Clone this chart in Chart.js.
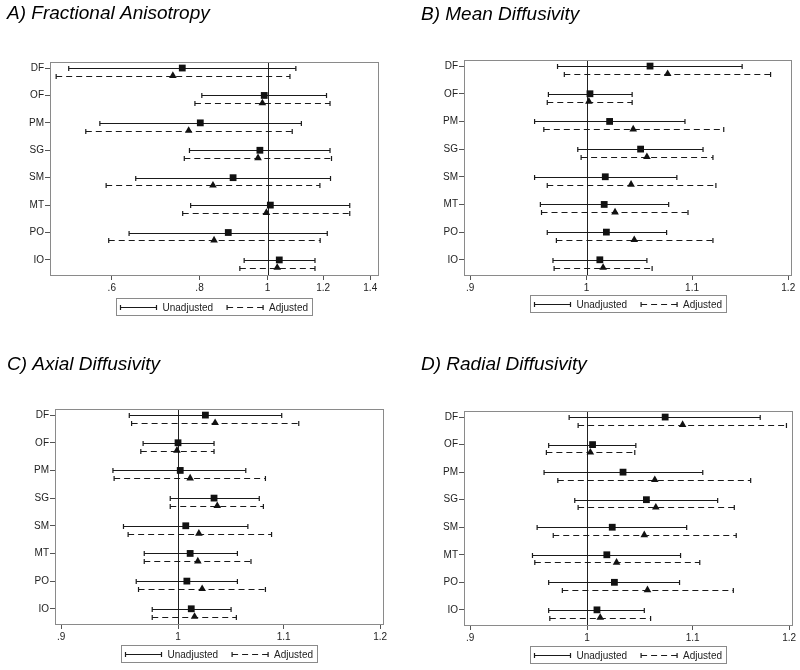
<!DOCTYPE html>
<html>
<head>
<meta charset="utf-8">
<title>DTI forest plots</title>
<script src="https://cdn.jsdelivr.net/npm/chart.js@4.4.1/dist/chart.umd.min.js"></script>
<style>
  body { margin: 0; background: #fff; }
  #wrap { position: relative; width: 800px; height: 670px; }
  canvas { position: absolute; }
</style>
</head>
<body>
<div id="wrap">
  <canvas id="panelA" width="400" height="335" style="left:0;top:0"></canvas>
  <canvas id="panelB" width="400" height="335" style="left:400px;top:0"></canvas>
  <canvas id="panelC" width="400" height="335" style="left:0;top:335px"></canvas>
  <canvas id="panelD" width="400" height="335" style="left:400px;top:335px"></canvas>
</div>
<script>
// Regions, top to bottom
const regions = ['DF', 'OF', 'PM', 'SG', 'SM', 'MT', 'PO', 'IO'];

// Each entry: [lower CI, estimate, upper CI]
// A) Fractional Anisotropy
const faUnadj = [[0.521, 0.756, 1.097], [0.806, 0.989, 1.213], [0.577, 0.802, 1.117], [0.774, 0.975, 1.227],
                 [0.649, 0.893, 1.229], [0.777, 1.009, 1.309], [0.635, 0.879, 1.216], [0.926, 1.039, 1.168]];
const faAdj   = [[0.500, 0.733, 1.076], [0.788, 0.983, 1.227], [0.551, 0.772, 1.084], [0.761, 0.969, 1.233],
                 [0.589, 0.836, 1.187], [0.757, 0.996, 1.309], [0.594, 0.839, 1.188], [0.913, 1.032, 1.168]];
// B) Mean Diffusivity
const mdUnadj = [[0.974, 1.059, 1.151], [0.966, 1.003, 1.042], [0.954, 1.021, 1.093], [0.992, 1.050, 1.111],
                 [0.954, 1.017, 1.085], [0.959, 1.016, 1.077], [0.965, 1.018, 1.075], [0.970, 1.012, 1.056]];
const mdAdj   = [[0.980, 1.076, 1.181], [0.965, 1.002, 1.042], [0.962, 1.043, 1.132], [0.995, 1.056, 1.121],
                 [0.965, 1.041, 1.124], [0.960, 1.026, 1.096], [0.973, 1.044, 1.121], [0.971, 1.015, 1.061]];
// C) Axial Diffusivity
const adUnadj = [[0.957, 1.025, 1.098], [0.969, 1.000, 1.033], [0.943, 1.002, 1.063], [0.993, 1.033, 1.076],
                 [0.952, 1.007, 1.065], [0.970, 1.011, 1.055], [0.963, 1.008, 1.055], [0.977, 1.012, 1.049]];
const adAdj   = [[0.959, 1.034, 1.115], [0.967, 0.999, 1.033], [0.944, 1.011, 1.082], [0.993, 1.036, 1.080],
                 [0.956, 1.019, 1.088], [0.970, 1.018, 1.068], [0.965, 1.022, 1.082], [0.977, 1.015, 1.054]];
// D) Radial Diffusivity
const rdUnadj = [[0.984, 1.073, 1.169], [0.966, 1.005, 1.045], [0.962, 1.033, 1.110], [0.989, 1.055, 1.125],
                 [0.956, 1.023, 1.094], [0.952, 1.018, 1.088], [0.966, 1.025, 1.087], [0.966, 1.009, 1.053]];
const rdAdj   = [[0.992, 1.090, 1.197], [0.964, 1.003, 1.044], [0.974, 1.063, 1.159], [0.992, 1.064, 1.142],
                 [0.970, 1.053, 1.144], [0.954, 1.027, 1.107], [0.978, 1.056, 1.141], [0.967, 1.012, 1.059]];

// Tick labels on the (log) x axis
const faTicks = [0.6, 0.8, 1, 1.2, 1.4];
const diffTicks = [0.9, 1, 1.1, 1.2];

const FONT = '"Liberation Sans", Arial, sans-serif';
const ADJ_OFFSET = 0.28;

// Draws the CI bars, reference line, frame and legend
const forestPlugin = {
    id: 'forest',
    beforeDatasetsDraw(chart) {
        const ctx = chart.ctx;
        const xs = chart.scales.x;
        const area = chart.chartArea;
        ctx.save();

        // reference line at 1
        const x1 = Math.round(xs.getPixelForValue(1)) + 0.5;
        ctx.strokeStyle = '#222';
        ctx.lineWidth = 1;
        ctx.beginPath();
        ctx.moveTo(x1, area.top);
        ctx.lineTo(x1, area.bottom);
        ctx.stroke();

        chart.data.datasets.forEach((ds, di) => {
            const meta = chart.getDatasetMeta(di);
            ctx.strokeStyle = '#1a1a1a';
            ctx.lineWidth = 1.2;
            meta.data.forEach((pt, j) => {
                const raw = ds.data[j];
                const xl = xs.getPixelForValue(raw.lo);
                const xh = xs.getPixelForValue(raw.hi);
                const y = Math.round(pt.y) + 0.5;
                ctx.setLineDash(ds.barDash);
                ctx.beginPath();
                ctx.moveTo(xl, y);
                ctx.lineTo(xh, y);
                ctx.stroke();
                ctx.setLineDash([]);
                ctx.beginPath();
                ctx.moveTo(xl, y - 2.5);
                ctx.lineTo(xl, y + 2.5);
                ctx.moveTo(xh, y - 2.5);
                ctx.lineTo(xh, y + 2.5);
                ctx.stroke();
            });
        });
        ctx.restore();
    },
    afterDraw(chart, args, opts) {
        const ctx = chart.ctx;
        const area = chart.chartArea;
        ctx.save();

        // plot frame
        ctx.strokeStyle = '#8a8a8a';
        ctx.lineWidth = 1;
        ctx.strokeRect(Math.round(area.left) + 0.5, Math.round(area.top) + 0.5,
            Math.round(area.right - area.left), Math.round(area.bottom - area.top));

        // legend
        const items = chart.data.datasets;
        ctx.font = '10px ' + FONT;
        const sample = 36, gap = 6, sep = 14, padX = 4, h = 17;
        let w = padX * 2;
        items.forEach((ds, k) => {
            w += sample + gap + ctx.measureText(ds.label).width + (k < items.length - 1 ? sep : 0);
        });
        const left = Math.round((area.left + area.right) / 2 - w / 2) + 0.5;
        const top = opts.legendTop + 0.5;
        ctx.strokeStyle = '#8a8a8a';
        ctx.strokeRect(left, top, Math.round(w), h);

        let x = left + padX;
        const cy = Math.round(top + h / 2) + 0.5;
        ctx.textBaseline = 'middle';
        ctx.fillStyle = '#222';
        items.forEach(ds => {
            ctx.strokeStyle = '#1a1a1a';
            ctx.lineWidth = 1.2;
            ctx.setLineDash(ds.barDash);
            ctx.beginPath();
            ctx.moveTo(x, cy);
            ctx.lineTo(x + sample, cy);
            ctx.stroke();
            ctx.setLineDash([]);
            ctx.beginPath();
            ctx.moveTo(x, cy - 2.5);
            ctx.lineTo(x, cy + 2.5);
            ctx.moveTo(x + sample, cy - 2.5);
            ctx.lineTo(x + sample, cy + 2.5);
            ctx.stroke();
            x += sample + gap;
            ctx.fillText(ds.label, x, cy + 0.5);
            x += ctx.measureText(ds.label).width + sep;
        });
        ctx.restore();
    }
};

function toPoints(rows, offset) {
    return rows.map((r, i) => ({ x: r[1], y: i + offset, lo: r[0], hi: r[2] }));
}

function tickLabel(v) {
    return v < 1 ? String(v).replace(/^0/, '') : String(v);
}

function makePanel(id, title, unadj, adj, xTicks, xMin, xMax, box) {
    const ctx = document.getElementById(id).getContext('2d');
    return new Chart(ctx, {
        type: 'scatter',
        data: {
            datasets: [{
                label: 'Unadjusted',
                data: toPoints(unadj, 0),
                pointStyle: 'rect',
                pointRadius: 4.8,
                backgroundColor: '#111',
                borderColor: '#111',
                borderWidth: 0,
                barDash: []
            }, {
                label: 'Adjusted',
                data: toPoints(adj, ADJ_OFFSET),
                pointStyle: 'triangle',
                pointRadius: 4.4,
                backgroundColor: '#111',
                borderColor: '#111',
                borderWidth: 0,
                barDash: [6, 4]
            }]
        },
        options: {
            responsive: false,
            animation: false,
            events: [],
            layout: {
                padding: {
                    left: box.titleX,
                    right: 400 - box.right,
                    top: 0,
                    bottom: 335 - box.bottom - 22
                }
            },
            scales: {
                x: {
                    type: 'logarithmic',
                    min: xMin,
                    max: xMax,
                    afterBuildTicks: scale => { scale.ticks = xTicks.map(v => ({ value: v })); },
                    afterFit: scale => { scale.height = 22; },
                    border: { display: false },
                    grid: { drawOnChartArea: false, tickLength: 5, color: '#555' },
                    ticks: {
                        autoSkip: false,
                        maxRotation: 0,
                        padding: 2,
                        color: '#222',
                        font: { family: FONT, size: 10 },
                        callback: v => tickLabel(v)
                    }
                },
                y: {
                    type: 'linear',
                    reverse: true,
                    min: -0.22,
                    max: 7.55,
                    afterBuildTicks: scale => { scale.ticks = regions.map((r, i) => ({ value: i })); },
                    afterFit: scale => { scale.width = box.left - box.titleX; },
                    border: { display: false },
                    grid: { drawOnChartArea: false, tickLength: 5, color: '#555' },
                    ticks: {
                        autoSkip: false,
                        padding: 1,
                        color: '#222',
                        font: { family: FONT, size: 10 },
                        callback: v => regions[v]
                    }
                }
            },
            plugins: {
                legend: { display: false },
                tooltip: { enabled: false },
                title: {
                    display: true,
                    text: title,
                    align: 'start',
                    color: '#000',
                    font: { family: FONT, size: 19, style: 'italic', weight: 'normal', lineHeight: 1.2 },
                    padding: { top: box.titlePad, bottom: box.top - box.titlePad - 22.8 }
                },
                forest: { legendTop: box.legendTop }
            }
        },
        plugins: [forestPlugin]
    });
}

document.addEventListener('DOMContentLoaded', function() {
    makePanel('panelA', 'A) Fractional Anisotropy', faUnadj, faAdj, faTicks, 0.49, 1.436,
        { titleX: 7, titlePad: 2.5, left: 50, right: 378, top: 62, bottom: 275, legendTop: 298 });
    makePanel('panelB', 'B) Mean Diffusivity', mdUnadj, mdAdj, diffTicks, 0.895, 1.203,
        { titleX: 21, titlePad: 3.5, left: 64, right: 391, top: 60, bottom: 275, legendTop: 295 });
    makePanel('panelC', 'C) Axial Diffusivity', adUnadj, adAdj, diffTicks, 0.895, 1.203,
        { titleX: 7, titlePad: 18, left: 55, right: 383, top: 74, bottom: 289, legendTop: 310 });
    makePanel('panelD', 'D) Radial Diffusivity', rdUnadj, rdAdj, diffTicks, 0.895, 1.203,
        { titleX: 21, titlePad: 18, left: 64, right: 392, top: 76, bottom: 290, legendTop: 311 });
});
</script>
</body>
</html>
